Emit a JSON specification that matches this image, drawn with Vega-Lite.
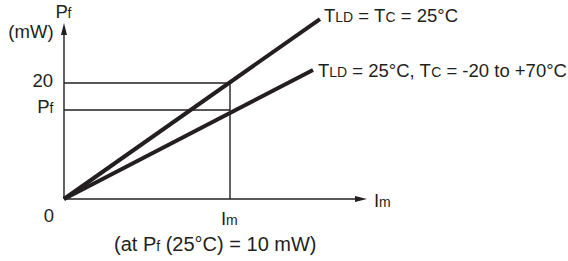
{
  "$schema": "https://vega.github.io/schema/vega-lite/v6.json",
  "width": 568,
  "height": 261,
  "autosize": "none",
  "padding": 0,
  "background": "white",
  "config": {"view": {"stroke": null}, "text": {"font": "Liberation Sans", "fontSize": 18.5, "color": "#231f20", "baseline": "alphabetic"}},
  "layer": [
    {
      "data": {"values": [
        {"x": 0, "y": 0, "x2": 0, "y2": 28.3},
        {"x": 0, "y": 0, "x2": 1.76, "y2": 0},
        {"x": 0, "y": 20, "x2": 1, "y2": 20},
        {"x": 0, "y": 15.34, "x2": 1, "y2": 15.34},
        {"x": 1, "y": 0, "x2": 1, "y2": 20}
      ]},
      "mark": {"type": "rule", "color": "#231f20", "strokeWidth": 1.4},
      "encoding": {
        "x": {"field": "x", "type": "quantitative", "scale": {"domain": [-0.3855, 3.0361], "nice": false, "zero": false}, "axis": null},
        "y": {"field": "y", "type": "quantitative", "scale": {"domain": [-10.69, 34.31], "nice": false, "zero": false}, "axis": null},
        "x2": {"field": "x2"},
        "y2": {"field": "y2"}
      }
    },
    {
      "data": {"values": [
        {"x": 0, "y": 0, "x2": 1.542, "y2": 31.03},
        {"x": 0, "y": 0, "x2": 1.5, "y2": 22.24}
      ]},
      "mark": {"type": "rule", "color": "#231f20", "strokeWidth": 4, "strokeCap": "butt"},
      "encoding": {
        "x": {"field": "x", "type": "quantitative", "axis": null},
        "y": {"field": "y", "type": "quantitative", "axis": null},
        "x2": {"field": "x2"},
        "y2": {"field": "y2"}
      }
    },
    {
      "data": {"values": [{"x": 0, "y": 29.31}]},
      "mark": {"type": "point", "shape": "M0,-1L0.5,1L-0.5,1Z", "size": 144, "filled": true, "color": "#231f20", "opacity": 1},
      "encoding": {
        "x": {"field": "x", "type": "quantitative", "axis": null},
        "y": {"field": "y", "type": "quantitative", "axis": null}
      }
    },
    {
      "data": {"values": [{"x": 1.789, "y": 0}]},
      "mark": {"type": "point", "shape": "M1,0L-1,-0.5L-1,0.5Z", "size": 144, "filled": true, "color": "#231f20", "opacity": 1},
      "encoding": {
        "x": {"field": "x", "type": "quantitative", "axis": null},
        "y": {"field": "y", "type": "quantitative", "axis": null}
      }
    },
    {
      "data": {"values": [
        {"x": -0.199, "y": 27.76, "t": "(mW)"},
        {"x": -0.0904, "y": -3.97, "t": "0"}
      ]},
      "mark": {"type": "text", "align": "center"},
      "encoding": {
        "x": {"field": "x", "type": "quantitative", "axis": null},
        "y": {"field": "y", "type": "quantitative", "axis": null},
        "text": {"field": "t"}
      }
    },
    {
      "data": {"values": [
        {"x": -0.0663, "y": 19.31, "t": "20"},
        {"x": -0.0873, "y": 14.78, "t": "P"}
      ]},
      "mark": {"type": "text", "align": "right"},
      "encoding": {
        "x": {"field": "x", "type": "quantitative", "axis": null},
        "y": {"field": "y", "type": "quantitative", "axis": null},
        "text": {"field": "t"}
      }
    },
    {
      "data": {"values": [
        {"x": -0.0633, "y": 14.78, "t": "f"}
      ]},
      "mark": {"type": "text", "align": "right", "fontSize": 14},
      "encoding": {
        "x": {"field": "x", "type": "quantitative", "axis": null},
        "y": {"field": "y", "type": "quantitative", "axis": null},
        "text": {"field": "t"}
      }
    },
    {
      "data": {"values": [
        {"x": 1.5663, "y": 30.57, "t": "T"},
        {"x": 1.7729, "y": 30.57, "t": "= T"},
        {"x": 2.0291, "y": 30.57, "t": "= 25°C"},
        {"x": 1.5302, "y": 21.09, "t": "T"},
        {"x": 1.737, "y": 21.09, "t": "= 25°C, T"},
        {"x": 2.3037, "y": 21.09, "t": "= -20 to +70°C"},
        {"x": -0.0512, "y": 31.16, "t": "P"},
        {"x": 0.9458, "y": -4.48, "t": "I"},
        {"x": 1.8675, "y": -1.33, "t": "I"}
      ]},
      "mark": {"type": "text", "align": "left"},
      "encoding": {
        "x": {"field": "x", "type": "quantitative", "axis": null},
        "y": {"field": "y", "type": "quantitative", "axis": null},
        "text": {"field": "t"}
      }
    },
    {
      "data": {"values": [
        {"x": 0.3012, "y": -9.05, "t": "(at P"},
        {"x": 0.6127, "y": -9.05, "t": "(25°C) = 10 mW)"}
      ]},
      "mark": {"type": "text", "align": "left", "fontSize": 20},
      "encoding": {
        "x": {"field": "x", "type": "quantitative", "axis": null},
        "y": {"field": "y", "type": "quantitative", "axis": null},
        "text": {"field": "t"}
      }
    },
    {
      "data": {"values": [
        {"x": 1.6343, "y": 30.57, "t": "LD"},
        {"x": 1.9373, "y": 30.57, "t": "C"},
        {"x": 1.5983, "y": 21.09, "t": "LD"},
        {"x": 2.2121, "y": 21.09, "t": "C"},
        {"x": 0.0211, "y": 31.16, "t": "f"},
        {"x": 0.9765, "y": -4.48, "t": "m"},
        {"x": 1.8982, "y": -1.33, "t": "m"},
        {"x": 0.5554, "y": -9.05, "t": "f"}
      ]},
      "mark": {"type": "text", "align": "left", "fontSize": 14},
      "encoding": {
        "x": {"field": "x", "type": "quantitative", "axis": null},
        "y": {"field": "y", "type": "quantitative", "axis": null},
        "text": {"field": "t"}
      }
    }
  ]
}
